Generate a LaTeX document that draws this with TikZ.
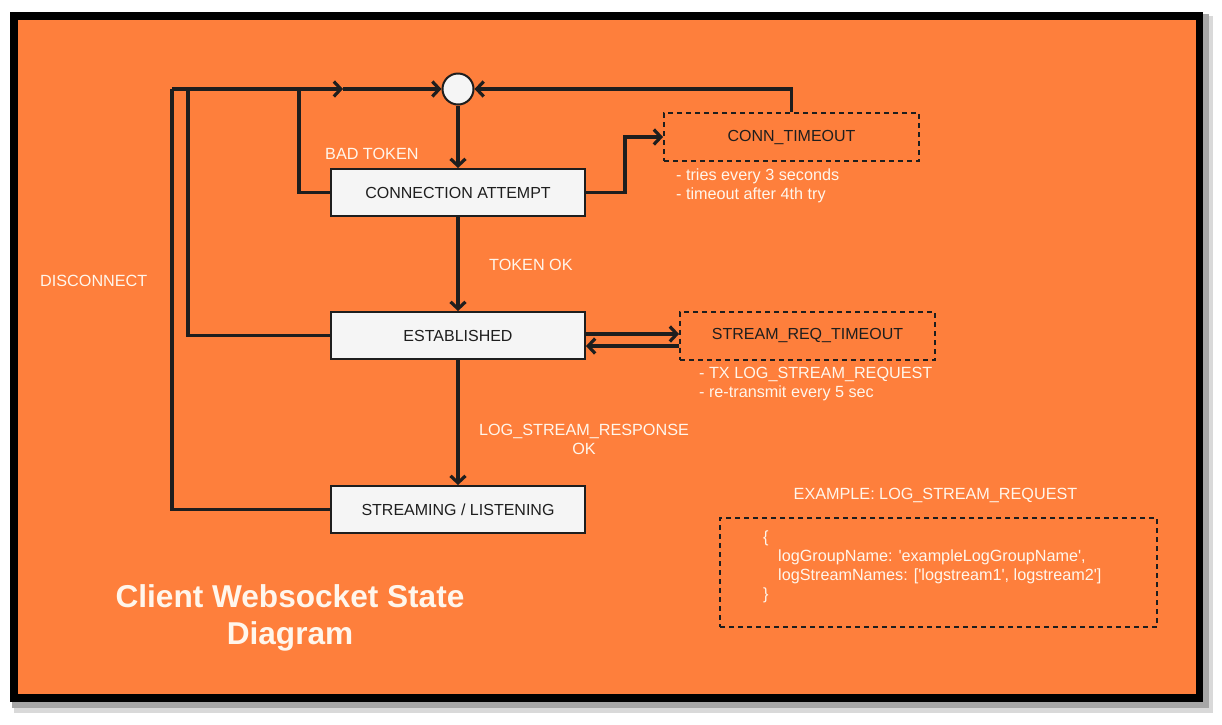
\documentclass[tikz,border=0pt]{standalone}
\usepackage{fontspec}
\setmainfont{Liberation Sans}
\usetikzlibrary{arrows.meta, positioning}

\definecolor{bgorange}{HTML}{FE7F3C}
\definecolor{boxfill}{HTML}{F5F5F5}
\definecolor{inkdark}{HTML}{1E1E1E}
\definecolor{notetext}{HTML}{FFF6EC}
\newcommand{\sq}{\textquotesingle}

\tikzset{
    state/.style = {draw=inkdark, line width=2pt, fill=boxfill, text=inkdark,
        minimum width=254pt, minimum height=47pt, font=\fontsize{16}{18}\selectfont},
    timer/.style = {draw=inkdark, line width=2pt, dash pattern=on 5pt off 4pt, text=inkdark,
        minimum width=255pt, minimum height=48pt, font=\fontsize{16}{18}\selectfont},
    wire/.style  = {draw=inkdark, line width=3.2pt},
    flow/.style  = {wire, -{Straight Barb[length=7pt, width=15pt]}},
    note/.style  = {text=notetext, align=left, inner sep=0pt, font=\fontsize{16.2}{19}\selectfont},
}

\begin{document}
\begin{tikzpicture}[x=1pt, y=-1pt]
        % frame, shadow and page
        \fill[white] (0,0) rectangle (1222,724);
        \fill[black!15] (14,16) rectangle (1213,713);
        \fill[black!35] (12,14) rectangle (1209,708);
        \fill[black] (10,12) rectangle (1203,702);
        \fill[bgorange] (18,20) rectangle (1196,694);
        \useasboundingbox (0,0) rectangle (1222,724);

        % states
        \node[circle, draw=inkdark, line width=2pt, fill=boxfill, minimum size=31pt, inner sep=0pt] (start) at (458,89) {};
        \node[state] (attempt)     at (458,192.5) {CONNECTION ATTEMPT};
        \node[state] (established) at (458,335.5) {ESTABLISHED};
        \node[state] (streaming)   at (458,509.5) {STREAMING / LISTENING};
        \node[timer] (conntimeout) at (791.5,137) {CONN\_TIMEOUT};
        \node[timer] (reqtimeout)  at (807.5,335.5) {STREAM\_REQ\_TIMEOUT};
        \node[draw=inkdark, line width=2pt, dash pattern=on 5pt off 4pt,
              minimum width=437pt, minimum height=109pt] (example) at (938.5,572.5) {};

        \coordinate (outer)   at (172,89);
        \coordinate (inner)   at (188,89);
        \coordinate (bad)     at (299,89);
        \coordinate (midtip)  at (343,89);
        \coordinate (bend)    at (625,192.5);

        % transitions
        \draw[flow] (start) -- (attempt);
        \draw[flow] (attempt) -- (established);
        \draw[flow] (established) -- (streaming);
        \draw[flow] (attempt.east) -- (bend) |- (conntimeout.west);
        \draw[flow] (conntimeout.north) |- (start.east);
        \draw[flow] ([yshift=1.5pt]established.east) -- ([yshift=1.5pt]reqtimeout.west);
        \draw[flow] ([yshift=-10.5pt]reqtimeout.west) -- ([yshift=-10.5pt]established.east);
        \draw[wire] (attempt.west) -| (bad);
        \draw[wire] (established.west) -| (inner);
        \draw[wire] (streaming.west) -| (outer);
        \draw[flow] (outer) -- (midtip);
        \draw[flow] (midtip) -- (start.west);

        % labels
        \node[note, anchor=west] (badtoken)   at (325,154) {BAD TOKEN};
        \node[note, anchor=west] (tokenok)    at (489,265) {TOKEN OK};
        \node[note, anchor=west] (disconnect) at (40,281) {DISCONNECT};
        \node[note, align=center] (responseok) at (584,439.5) {LOG\_STREAM\_RESPONSE\\OK};
        \node[note, anchor=west] (connnote) at (676,186) {- tries every 3 seconds\\- timeout after 4th try};
        \node[note, anchor=west] (reqnote)  at (699,384.5) {- TX LOG\_STREAM\_REQUEST\\- re-transmit every 5 sec};
        \node[note] (examplehead) at (935.5,495) {EXAMPLE: LOG\_STREAM\_REQUEST};
        \node[note, anchor=west] (examplebody) at (763,567) {\{\\
            \hspace*{15pt}logGroupName: \sq exampleLogGroupName\sq,\\
            \hspace*{15pt}logStreamNames: [\sq logstream1\sq, logstream2\sq]\\
            \}};
        \node[text=notetext, align=center, font=\bfseries\fontsize{31.6}{37}\selectfont] (title) at (290,617.5) {Client Websocket State\\Diagram};
    \end{tikzpicture}
\end{document}
